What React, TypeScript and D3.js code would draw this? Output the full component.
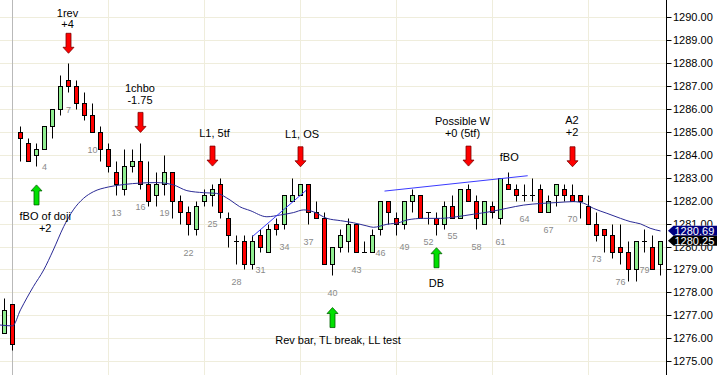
import React from "react";
import * as d3 from "d3";

// ---------- DATA ----------
const firstBar = -1;
const opens = [
  1276.25, 1277.5, 1285, 1284.5, 1284, 1284.25, 1285.25, 1286, 1287.25, 1287, 1286.25, 1285.75,
  1285, 1284.25, 1283.25, 1282.5, 1283.5, 1283.75, 1282.75, 1282.25, 1282.75, 1283.25, 1282, 1281.5,
  1280.75, 1282, 1282.25, 1282.75, 1281.25, 1280.25, 1280.25, 1279.25, 1280.5, 1279.75, 1281, 1281,
  1282, 1282.25, 1282.75, 1281.5, 1281.25, 1279.25, 1280, 1280.25, 1281, 1279.75, 1279.75, 1280.75,
  1282, 1281.25, 1281, 1282, 1282.25, 1281.5, 1281.25, 1281, 1281.75, 1281.25, 1282.5, 1282,
  1281, 1281.75, 1281.25, 1282.75, 1282.5, 1282.25, 1282.25, 1282.5, 1281.5, 1282.25, 1282.5, 1282.25,
  1282.25, 1281.75, 1281, 1280.75, 1280.5, 1280, 1279.75, 1279, 1280.25, 1280, 1279.25,
];
const highs = [
  1277.75, 1277.5, 1285.25, 1284.75, 1284.5, 1285.25, 1286, 1287.5, 1288, 1287.25, 1286.75, 1286.25,
  1285.25, 1284.5, 1283.75, 1284.25, 1284.25, 1284.5, 1283.75, 1283.25, 1284, 1283.25, 1282.25, 1281.75,
  1282, 1282.5, 1282.75, 1283, 1281.5, 1280.5, 1280.5, 1280.5, 1280.75, 1281, 1281.25, 1282.25,
  1283, 1282.75, 1282.75, 1282, 1281.5, 1280, 1280.75, 1281.25, 1281, 1280.25, 1280.75, 1282,
  1282, 1281.5, 1282, 1282.5, 1282.25, 1281.5, 1281.5, 1282, 1282.25, 1282.5, 1282.75, 1282.25,
  1282, 1282, 1283, 1283.25, 1282.75, 1282.75, 1283, 1282.75, 1282.25, 1282.75, 1282.75, 1282.75,
  1282.25, 1282.25, 1281.5, 1280.75, 1281, 1281, 1280.25, 1280.25, 1280.75, 1280.5, 1280.25,
];
const lows = [
  1276.25, 1275.5, 1283.75, 1283.75, 1283.5, 1284.25, 1284.75, 1285.75, 1286.75, 1286, 1285.5, 1285,
  1283.75, 1283.25, 1282.25, 1282.25, 1283.25, 1282.5, 1281.75, 1281.75, 1282.25, 1281.25, 1281, 1280.5,
  1280.5, 1281.75, 1281.75, 1281.25, 1280, 1279.25, 1279, 1279, 1279.75, 1279.75, 1280.5, 1280.75,
  1282, 1282.25, 1281, 1281.25, 1279.25, 1278.75, 1279.75, 1279.75, 1279.75, 1279.75, 1279.75, 1280.5,
  1281, 1280.5, 1280.75, 1281.5, 1281.25, 1281, 1280.5, 1280.75, 1281.25, 1281.25, 1282, 1280.75,
  1281, 1281.25, 1281, 1282.5, 1282, 1282, 1282, 1281.5, 1281.5, 1281.75, 1282, 1282,
  1281.25, 1281, 1280.25, 1279.75, 1279.5, 1279.25, 1278.5, 1278.5, 1279.75, 1279, 1278.75,
];
const closes = [
  1277.25, 1275.75, 1284.75, 1283.75, 1284.25, 1285.25, 1286, 1287, 1287, 1286.25, 1285.75, 1285,
  1284.25, 1283.5, 1282.75, 1283.5, 1283.75, 1282.75, 1282, 1282.75, 1283.25, 1282, 1281.5, 1281,
  1281.75, 1282.25, 1282.5, 1281.5, 1280.5, 1280.25, 1279.25, 1280.25, 1280, 1280.75, 1280.75, 1282.25,
  1282.25, 1282.75, 1281.5, 1281.25, 1279.25, 1280, 1280.5, 1281, 1279.75, 1279.75, 1280.5, 1282,
  1281.5, 1281, 1282, 1282.25, 1281.25, 1281.5, 1281, 1281.75, 1281.25, 1282.5, 1282, 1281.25,
  1282, 1281.5, 1283, 1282.5, 1282.25, 1282.25, 1282.25, 1281.5, 1282, 1282.75, 1282.25, 1282,
  1282, 1281, 1280.5, 1280.5, 1279.75, 1279.75, 1279, 1280.25, 1280.25, 1279, 1280.25,
];

// moving average (bar position, value)
const maBars = [
  -1.6, 0, 1, 2.6, 3.9, 5.1, 6.4, 7.6, 8.9, 10.1, 12, 14, 16, 18, 20.1, 21.8, 23.9, 25.5, 27.2,
  28.4, 29.7, 31.8, 33.5, 35.1, 36.4, 37.6, 39.3, 41, 42.6, 44.3, 45.1, 46.8, 48.5, 49.3, 51.4,
  53.5, 55.5, 57.6, 59.7, 61.8, 63.9, 66, 68, 70.1, 71.4, 72.6, 74.3, 76, 77.2, 78.5, 79.7, 81,
];
const maValues = [
  1276.58, 1276.54, 1277.24, 1278.25, 1278.98, 1279.85, 1280.87, 1281.6, 1282.11, 1282.39, 1282.6,
  1282.71, 1282.77, 1282.79, 1282.69, 1282.44, 1282.35, 1282.32, 1282.03, 1281.74, 1281.57, 1281.3,
  1281.38, 1281.48, 1281.6, 1281.52, 1281.23, 1281.13, 1281.04, 1280.9, 1280.84, 1280.97, 1281.06,
  1281.16, 1281.23, 1281.23, 1281.3, 1281.41, 1281.52, 1281.67, 1281.81, 1281.88, 1281.92, 1281.96,
  1281.89, 1281.67, 1281.45, 1281.23, 1281.09, 1280.99, 1280.8, 1280.68,
];

// trend lines: [bar, price, bar, price]
const trendLines = [
  [30, 1280.44, 36.7, 1282.45],
  [46.5, 1282.42, 64.4, 1283.09],
];

const priceTicks = d3.range(1275, 1291, 1);
const barLabelEvery = 3;
const firstLabeledBar = 4;
const lastMA = 1280.69;
const lastClose = 1280.25;

type Ann = { bar: number; tip: number; dir: "down" | "up"; lines: string[]; dx: number; dy: number[] };
const annotations: Ann[] = [
  { bar: 7, tip: 1288.43, dir: "down", lines: ["1rev", "+4"], dx: -1, dy: [-40.6, -29] },
  { bar: 16, tip: 1284.98, dir: "down", lines: ["1chbo", "-1.75"], dx: -0.5, dy: [-44, -32.3] },
  { bar: 25, tip: 1283.51, dir: "down", lines: ["L1, 5tf"], dx: 2, dy: [-33.3] },
  { bar: 36, tip: 1283.48, dir: "down", lines: ["L1, OS"], dx: 1.5, dy: [-32.4] },
  { bar: 57, tip: 1283.51, dir: "down", lines: ["Possible W", "+0 (5tf)"], dx: -6, dy: [-45.3, -32.7] },
  { bar: 70, tip: 1283.48, dir: "down", lines: ["A2", "+2"], dx: -0.5, dy: [-46.7, -34.4] },
  { bar: 3, tip: 1282.69, dir: "up", lines: ["fBO of doji", "+2"], dx: 8.7, dy: [30.7, 43.3] },
  { bar: 40, tip: 1277.34, dir: "up", lines: ["Rev bar, TL break, LL test"], dx: 5.5, dy: [32.6] },
  { bar: 53, tip: 1279.95, dir: "up", lines: ["DB"], dx: 0, dy: [35.6] },
];
const freeTexts = [{ bar: 62.1, price: 1283.9, text: "fBO" }];

// ---------- CHART ----------
const W = 717;
const H = 375;
const AXIS_X = 666.5;
const FONT = "'Liberation Sans', Arial, Helvetica, sans-serif";

const x = d3.scaleLinear().domain([0, 1]).range([12.5, 20.5]);
const y = d3.scaleLinear().domain([1275, 1290]).range([361.2, 17.3]);
const cy = (p: number) => Math.round(y(p)) + 0.5;

export default function App() {
  const data = opens.map((o, i) => ({
    b: firstBar + i,
    o,
    h: highs[i],
    l: lows[i],
    c: closes[i],
  }));

  const maLine = d3
    .line<number>()
    .x((_, i) => x(maBars[i]))
    .y((d) => y(d))
    .curve(d3.curveMonotoneX)(maValues) as string;

  const arrowPath = (cx: number, tipY: number, dir: "down" | "up") => {
    const s = dir === "down" ? 1 : -1;
    const top = tipY - s * 20;
    const neck = tipY - s * 6;
    return `M${cx - 2.5},${top}L${cx + 2.5},${top}L${cx + 2.5},${neck}L${cx + 5.5},${neck}L${cx},${tipY}L${cx - 5.5},${neck}L${cx - 2.5},${neck}Z`;
  };

  const vGridBars = [12, 24, 36, 48, 60, 72];

  const flag = (price: number, fill: string, key: string) => {
    const yc = y(price);
    const h = 5;
    return (
      <g key={key}>
        <path
          d={`M${AXIS_X + 1.5},${yc}L${AXIS_X + 7},${yc - h}L${W},${yc - h}L${W},${yc + h}L${AXIS_X + 7},${yc + h}Z`}
          fill={fill}
        />
        <text x={AXIS_X + 8} y={yc} dy="0.36em" fill="#fff" fontSize={11}>
          {d3.format(".2f")(price)}
        </text>
      </g>
    );
  };

  // axis labels hidden behind the price flags are clipped to their visible part
  const flagTop = y(lastMA) - 5;
  const flagBot = y(lastClose) + 5;

  return (
    <svg
      width={W}
      height={H}
      style={{ position: "absolute", left: 0, top: 0, display: "block" }}
      fontFamily={FONT}
    >
      <defs>
        <clipPath id="plotClip">
          <rect x={0} y={0} width={AXIS_X} height={H} />
        </clipPath>
        <clipPath id="axisClip">
          <rect x={AXIS_X} y={0} width={W - AXIS_X} height={flagTop} />
          <rect x={AXIS_X} y={flagBot} width={W - AXIS_X} height={H - flagBot} />
        </clipPath>
      </defs>
      <rect x={0} y={0} width={W} height={H} fill="#ffffff" />
      <g clipPath="url(#plotClip)">
        {priceTicks.map((p) => (
          <line key={"hg" + p} x1={0} x2={AXIS_X} y1={cy(p)} y2={cy(p)} stroke="#efeddc" strokeWidth={1} />
        ))}
        {vGridBars.map((b) => (
          <line key={"vg" + b} x1={x(b)} x2={x(b)} y1={0} y2={H} stroke="#efeddc" strokeWidth={1} />
        ))}
        <line x1={x(0)} x2={x(0)} y1={0} y2={H} stroke="#b9b9b9" strokeWidth={1} />

        {/* candles */}
        {data.map((d) => {
          const cx = x(d.b);
          const top = cy(Math.max(d.o, d.c));
          const bot = cy(Math.min(d.o, d.c));
          const up = d.c > d.o;
          return (
            <g key={"c" + d.b}>
              <line x1={cx} x2={cx} y1={cy(d.h)} y2={cy(d.l)} stroke="#000" strokeWidth={1} />
              {d.o === d.c ? (
                <line x1={cx - 2.5} x2={cx + 2.5} y1={top} y2={top} stroke="#000" strokeWidth={1} />
              ) : (
                <rect
                  x={cx - 2}
                  y={top}
                  width={4}
                  height={bot - top}
                  fill={up ? "#90ee90" : "#ff0000"}
                  stroke="#000"
                  strokeWidth={1}
                />
              )}
            </g>
          );
        })}

        {/* moving average */}
        <path d={maLine} fill="none" stroke="#2a2a95" strokeWidth={1} />

        {/* trend lines */}
        {trendLines.map((t, i) => (
          <line
            key={"tl" + i}
            x1={x(t[0])}
            y1={y(t[1])}
            x2={x(t[2])}
            y2={y(t[3])}
            stroke="#3a3aff"
            strokeWidth={1}
          />
        ))}

        {/* bar numbers */}
        {data
          .filter((d) => d.b >= firstLabeledBar && (d.b - firstLabeledBar) % barLabelEvery === 0)
          .map((d) => (
            <text
              key={"n" + d.b}
              x={x(d.b)}
              y={y(d.l) + 17.7}
              dy="0.36em"
              textAnchor="middle"
              fontSize={9}
              fill="#8a8a8a"
            >
              {d.b}
            </text>
          ))}

        {/* annotations */}
        {annotations.map((a, i) => {
          const cx = x(a.bar);
          const tipY = y(a.tip);
          return (
            <g key={"a" + i}>
              <path
                d={arrowPath(cx, tipY, a.dir)}
                fill={a.dir === "down" ? "#ff0000" : "#00e000"}
                stroke={a.dir === "down" ? "#7a0000" : "#006000"}
                strokeWidth={0.8}
              />
              {a.lines.map((ln, j) => (
                <text
                  key={j}
                  x={cx + a.dx}
                  y={tipY + a.dy[j]}
                  dy="0.36em"
                  textAnchor="middle"
                  fontSize={11}
                  fill="#000"
                >
                  {ln}
                </text>
              ))}
            </g>
          );
        })}
        {freeTexts.map((t, i) => (
          <text key={"ft" + i} x={x(t.bar)} y={y(t.price)} dy="0.36em" textAnchor="middle" fontSize={11} fill="#000">
            {t.text}
          </text>
        ))}
      </g>

      {/* price axis */}
      <line x1={AXIS_X} x2={AXIS_X} y1={0} y2={H} stroke="#000" strokeWidth={1} />
      <g clipPath="url(#axisClip)">
        {priceTicks.map((p) => (
          <g key={"t" + p}>
            <line x1={AXIS_X} x2={AXIS_X + 5} y1={cy(p)} y2={cy(p)} stroke="#000" strokeWidth={1} />
            <text x={AXIS_X + 6.5} y={y(p)} dy="0.36em" fontSize={11} fill="#000">
              {d3.format(".2f")(p)}
            </text>
          </g>
        ))}
      </g>
      {flag(lastMA, "#000080", "fma")}
      {flag(lastClose, "#000000", "fcl")}
    </svg>
  );
}
